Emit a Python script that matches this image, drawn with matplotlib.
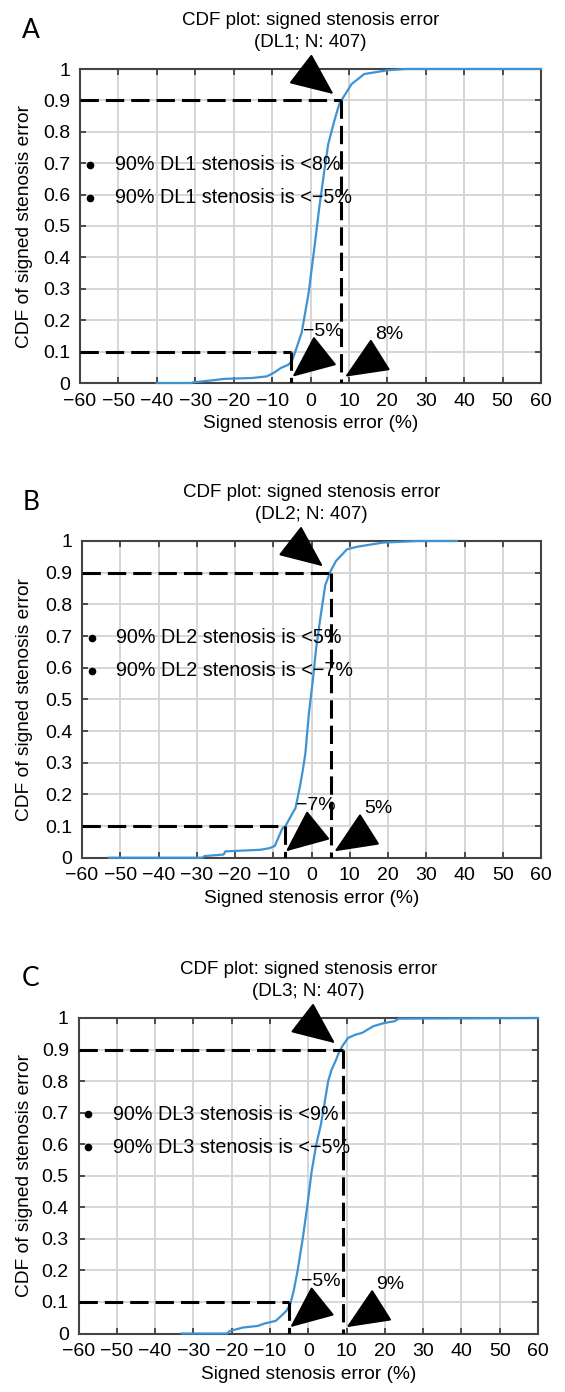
import matplotlib.pyplot as plt
import numpy as np

plt.rcParams['font.family'] = ['Liberation Sans', 'DejaVu Sans']

# empirical CDF of signed stenosis error for each model
a_err = [-40, -31, -30.6, -24.5, -22.7, -15.2, -11.4, -9.6, -7.7, -5.8, -4.9, -4.1, -2.3, -0.5,
         1.0, 2.3, 3.6, 4.6, 6.2, 7.5, 8.5, 10.7, 14, 17.5, 20, 25, 60]
a_cdf = [0, 0, 0.002, 0.010, 0.013, 0.016, 0.021, 0.032, 0.048, 0.058, 0.069, 0.095, 0.16, 0.286,
         0.43, 0.56, 0.676, 0.76, 0.835, 0.889, 0.909, 0.952, 0.984, 0.991, 0.996, 1.0, 1.0]

b_err = [-53, -28.5, -28, -23, -22.5, -13.4, -11, -9.6, -7.6, -6.8, -4.9, -4.2, -3.0, -2.2, -1.6,
         -0.66, 0.4, 1.2, 2.3, 3.6, 5.0, 6.4, 9.3, 12, 18.7, 28, 38]
b_cdf = [0, 0, 0.005, 0.01, 0.02, 0.025, 0.03, 0.037, 0.093, 0.10, 0.142, 0.156, 0.226, 0.282, 0.33,
         0.458, 0.566, 0.66, 0.756, 0.861, 0.905, 0.937, 0.974, 0.982, 0.995, 1.0, 1.0]

c_err = [-33, -21.2, -20.5, -17, -13.2, -11.3, -8.5, -6.6, -5.7, -4.7, -3.8, -2.8, -1.4, -0.2, 0.9,
         2.1, 3.3, 4.2, 5.2, 6.1, 7.1, 8.0, 8.9, 10.4, 12.3, 14.1, 17, 19.8, 22.6, 23.6, 60]
c_cdf = [0, 0, 0.008, 0.019, 0.024, 0.032, 0.04, 0.061, 0.072, 0.093, 0.135, 0.198, 0.304, 0.409, 0.515,
         0.599, 0.662, 0.726, 0.8, 0.836, 0.863, 0.89, 0.911, 0.937, 0.947, 0.953, 0.974, 0.984, 0.99, 0.998, 1.0]

models = ['DL1', 'DL2', 'DL3']
letters = ['A', 'B', 'C']
n_cases = [407, 407, 407]
p90 = [8, 5, 9]
p10 = [-5, -7, -5]

curves = [(a_err, a_cdf), (b_err, b_cdf), (c_err, c_cdf)]

W, H = 565, 1392
# axes boxes in pixels: left, top, right, bottom
boxes = [(80, 69, 541, 383), (82, 541, 541, 857.7), (78.5, 1018, 538, 1333.5)]

fig = plt.figure(figsize=(W / 100, H / 100), dpi=100)

blue = '#3f93d2'
dash = (0, (6, 2.3))

def arrow(ax, tip, start):
    ax.annotate('', xy=tip, xytext=start,
                arrowprops=dict(arrowstyle='-|>,head_length=0.55,head_width=0.24',
                                mutation_scale=50, color='k', lw=1.5,
                                shrinkA=0, shrinkB=0))

for i, (xs, ys) in enumerate(curves):
    l, t, r, b = boxes[i]
    ax = fig.add_axes([l / W, 1 - b / H, (r - l) / W, (b - t) / H])
    ax.plot(xs, ys, color=blue, lw=1.6, zorder=3, clip_on=False)

    hi, lo = p90[i], p10[i]
    ax.plot([-60, hi], [0.9, 0.9], color='k', lw=2.2, ls=dash, zorder=4)
    ax.plot([hi, hi], [0.9, 0], color='k', lw=2.2, ls=dash, zorder=4)
    ax.plot([-60, lo], [0.1, 0.1], color='k', lw=2.2, ls=dash, zorder=4)
    ax.plot([lo, lo], [0.1, 0], color='k', lw=2.2, ls=dash, zorder=4)

    arrow(ax, (hi - 2, 0.92), (hi - 10.5, 1.0))
    arrow(ax, (lo + 0.3, 0.02), (lo + 8.5, 0.1))
    arrow(ax, (hi + 1, 0.02), (hi + 9.5, 0.085))

    ax.text(lo + 8.2, 0.165, f'{lo}%'.replace('-', '\u2212'), fontsize=14, ha='center', va='center', zorder=5)
    ax.text(hi + 12.5, 0.155, f'{hi}%', fontsize=14, ha='center', va='center', zorder=5)

    # legend-like entries
    for yy, val in [(0.695, hi), (0.59, lo)]:
        ax.plot([-57.5], [yy], 'o', color='k', ms=4.5, zorder=5, clip_on=False)
        ax.text(-51, yy, f'90% {models[i]} stenosis is <{val}%'.replace('-', '\u2212'),
                fontsize=14.2, va='center', ha='left', zorder=5)

    ax.set_xlim(-60, 60)
    ax.set_ylim(0, 1)
    ax.set_xticks(np.arange(-60, 61, 10))
    ax.set_yticks(np.arange(0, 1.01, 0.1))
    ax.set_yticklabels(['0', '0.1', '0.2', '0.3', '0.4', '0.5', '0.6', '0.7', '0.8', '0.9', '1'])
    ax.grid(True, color='#d6d6d6', lw=1.4)
    ax.set_axisbelow(True)
    ax.tick_params(direction='in', top=True, right=True, length=4, width=1.2,
                   labelsize=14, color='#333333', pad=7)
    for s in ax.spines.values():
        s.set_color('#444444')
        s.set_linewidth(1.5)

    ax.set_title(f'CDF plot: signed stenosis error\n({models[i]}; N: {n_cases[i]})',
                 fontsize=13.5, pad=16, linespacing=1.4)
    ax.set_xlabel('Signed stenosis error (%)', fontsize=13.8, labelpad=4)
    ax.set_ylabel('CDF of signed stenosis error', fontsize=13.8)
    ax.yaxis.set_label_coords(-(l - 33) / (r - l), 0.5)

    fig.text(31 / W, 1 - (t - 39) / H, letters[i], fontsize=19, family='Lato',
             ha='center', va='center')

fig.savefig('out.png', dpi=100)
